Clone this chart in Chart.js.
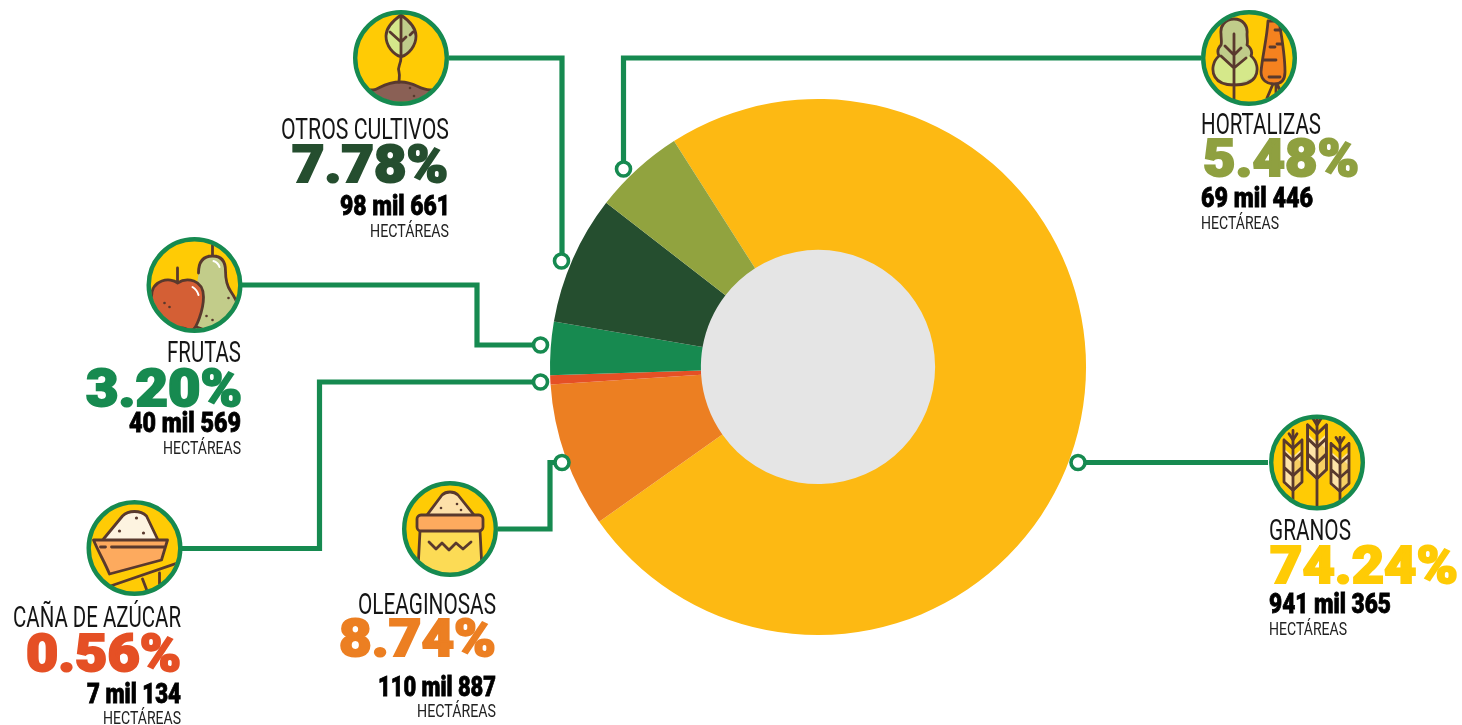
<!DOCTYPE html>
<html>
<head>
<meta charset="utf-8">
<script src="https://cdn.jsdelivr.net/npm/chart.js@4"></script>
<style>
  html, body { margin: 0; background: #fff; overflow: hidden; }
  #wrap { position: relative; width: 1462px; height: 725px; }
  #c { position: absolute; left: 0; top: 0; }
  #over { position: absolute; left: 0; top: 0; pointer-events: none; }
  .title { font: 400 30px Roboto, sans-serif; fill: #151515; }
  .pct { font: 900 52px Roboto, sans-serif; stroke-width: 2px; stroke-linejoin: miter; }
  .hect { font: 900 28px Roboto, sans-serif; fill: #000; stroke: #000; stroke-width: .8px; }
  .unit { font: 400 19px Roboto, sans-serif; fill: #222; }
  .ink { fill: none; stroke: #59392d; stroke-width: 2.8; stroke-linecap: round; stroke-linejoin: round; }
  .wire { fill: none; stroke: #168a50; stroke-width: 5.2; }
</style>
</head>
<body>
<div id="wrap">
<canvas id="c" width="1462" height="725"></canvas>
<svg id="over" width="1462" height="725" xmlns="http://www.w3.org/2000/svg">
  <defs>
    <clipPath id="disc"><circle r="44"/></clipPath>
    <g id="ear">
      <path d="M-9,-22 L-9,12 L0,20 L9,12 L9,-22 L0,-14 Z" fill="#fde3a7" stroke="none"/>
      <path d="M9,-8 L9,12 L0,20 L0,-16 Z" fill="#f7cf63" stroke="none"/>
      <path class="ink" d="M-9,-30 L-9,-18 L0,-10 L9,-18 L9,-30 M-9,-18 L-9,-4 L0,4 L9,-4 L9,-18 M-9,-4 L-9,10 L0,18 L9,10 L9,-4 M-4,-36 L0,-30 L4,-36 M-9,-30 L0,-22 L9,-30"/>
    </g>
  </defs>
  <g id="wires"></g>

  <!-- otros cultivos -->
  <g transform="translate(401,58)">
    <circle r="46" fill="#ffcb05"/>
    <g clip-path="url(#disc)">
      <path d="M-50,50 L-50,32 L-28,32 C-22,32 -18,24 0,24 C14,24 18,32 29,32 L50,32 L50,50 Z" fill="#8a6055"/>
      <path class="ink" d="M-50,32 L-28,32 C-22,32 -18,24 0,24 C14,24 18,32 29,32 L50,32"/>
    </g>
    <path d="M0,-43 C-10,-36 -15,-30 -15,-22 C-15,-12 -8,-4 0,-1 Z" fill="#d5e88a"/>
    <path d="M0,-43 C10,-36 15,-30 15,-22 C15,-12 8,-4 0,-1 Z" fill="#c0cc8a"/>
    <path class="ink" d="M0,-43 C-10,-36 -15,-30 -15,-22 C-15,-12 -8,-4 0,-1 C8,-4 15,-12 15,-22 C15,-30 10,-36 0,-43 Z M0,-40 L0,-1 C0,8 -4,8 -2,14 C-1,18 -2,20 -2,24 M-11,-26 L0,-16 L5,-21 M12,-26 L9,-23"/>
    <circle cx="9" cy="30" r="1.3" fill="#59392d"/><circle cx="13" cy="38" r="1.3" fill="#59392d"/>
  </g>

  <!-- hortalizas -->
  <g transform="translate(1249,58)">
    <circle r="46" fill="#ffcb05"/>
    <g clip-path="url(#disc)">
      <path d="M-15,-39 C-24,-39 -29,-32 -28,-24 C-28,-19 -27,-16 -28,-13 C-31,-10 -32,-6 -30,-2 C-36,3 -38,12 -34,19 C-30,26 -22,27 -15,27 C-8,27 2,26 6,19 C10,12 8,3 2,-2 C4,-7 2,-10 -2,-13 C-1,-16 -2,-19 -2,-24 C-1,-32 -6,-39 -15,-39 Z" fill="#c0cc8a"/>
      <path d="M-15,27 C-22,27 -30,26 -34,19 C-38,12 -36,3 -30,-2 L-15,10 L-5,0 L2,-2 C8,3 10,12 6,19 L-15,27 Z" fill="#d5e88a"/>
      <path class="ink" d="M-15,-39 C-24,-39 -29,-32 -28,-24 C-28,-19 -27,-16 -28,-13 C-31,-10 -32,-6 -30,-2 C-36,3 -38,12 -34,19 C-30,26 -22,27 -15,27 C-8,27 2,26 6,19 C10,12 8,3 2,-2 C4,-7 2,-10 -2,-13 C-1,-16 -2,-19 -2,-24 C-1,-32 -6,-39 -15,-39 Z M-15,-24 L-15,46 M-28,-2 L-15,10 L-3,0 M-24,-12 L-15,-3 L-8,-10"/>
      <path d="M19,-37 L30,-37 C33,-20 36,0 36,14 C36,22 32,26 25,26 C18,26 12,22 12,14 C13,0 18,-20 19,-37 Z" fill="#f5821f"/>
      <path class="ink" d="M19,-37 L30,-37 C33,-20 36,0 36,14 C36,22 32,26 25,26 C18,26 12,22 12,14 C13,0 18,-20 19,-37 Z M26,-28 L32,-28 M15,2 L27,2 M28,-14 L33,-14 M20,19 L31,19 M21,-11 L26,-11 M24,26 L18,40 M27,26 L27,36 M28,26 L32,34"/>
    </g>
  </g>

  <!-- frutas -->
  <g transform="translate(194.5,285)">
    <circle r="46" fill="#ffcb05"/>
    <g clip-path="url(#disc)">
      <path d="M18,-29 C6,-29 4,-20 4,-12 C4,-6 0,10 -6,20 L-6,44 C10,50 30,46 40,34 C46,24 44,18 36,6 C32,0 31,-8 31,-14 C31,-22 28,-29 18,-29 Z" fill="#c2cc8a"/>
      <path class="ink" d="M18,-46 L18,-29 M18,-29 C6,-29 4,-20 4,-12 M18,-29 C28,-29 31,-22 31,-14 C31,-8 32,0 36,6 C44,18 46,24 40,34 C32,44 14,48 2,42"/>
      <path d="M-17,-2 C-24,-8 -43,-6 -43,12 C-43,24 -34,45 -22,45 C-19,45 -17,43 -13,43 C-9,43 -7,45 -3,45 C2,45 9,24 9,12 C9,-6 -8,-8 -17,-2 Z" fill="#d45f35"/>
      <path class="ink" d="M-17,-17 L-17,-2 C-24,-8 -43,-6 -43,12 C-43,24 -34,45 -22,45 C-19,45 -17,43 -13,43 C-9,43 -7,45 -3,45 C2,45 9,24 9,12 C9,-6 -8,-8 -17,-2"/>
      <path d="M-2,2 C1,4 3,6 4,10 M19,-24 C22,-23 24,-21 25,-18" fill="none" stroke="#fff" stroke-width="2" stroke-linecap="round"/>
      <circle cx="-30" cy="18" r="1.3" fill="#59392d"/><circle cx="-25" cy="22" r="1.3" fill="#59392d"/>
      <circle cx="34" cy="13" r="1.3" fill="#59392d"/><circle cx="12" cy="31" r="1.3" fill="#59392d"/><circle cx="18" cy="35" r="1.3" fill="#59392d"/>
    </g>
  </g>

  <!-- caña de azúcar -->
  <g transform="translate(134.5,548)">
    <circle r="46" fill="#ffcb05"/>
    <g clip-path="url(#disc)">
      <path d="M-31,-9 L-12,-32 C-6,-38 6,-38 12,-32 L23,-9 Z" fill="#fdf3e0"/>
      <path class="ink" d="M-31,-9 L-12,-32 C-6,-38 6,-38 12,-32 L23,-9"/>
      <path d="M-41,-8 L33,-8 L27,12 L-25,26 C-29,16 -36,4 -41,-8 Z" fill="#fdaa5e"/>
      <path class="ink" d="M-41,-8 L33,-8 L27,12 L-25,26 C-29,16 -36,4 -41,-8 Z M-23,-1 L30,-1 M-34,-1 L-29,-1 M-24,38 L46,14 M8,31 L13,44 M25,25 L25,40"/>
      <circle cx="2" cy="-30" r="1.6" fill="#59392d"/><circle cx="-15" cy="-17" r="1.6" fill="#59392d"/><circle cx="9" cy="-15" r="1.6" fill="#59392d"/>
    </g>
  </g>

  <!-- oleaginosas -->
  <g transform="translate(450,529)">
    <circle r="46" fill="#ffcb05"/>
    <g clip-path="url(#disc)">
      <path d="M-30,1 L30,1 L32,50 L-32,50 Z" fill="#fcdb55"/>
      <path class="ink" d="M-30,2 L-32,40 M30,2 L32,40 M-21,13 L-14,20 L-8,14 L-1,21 L6,14 L13,20 L21,13"/>
      <path d="M-23,-14 L-8,-34 C-4,-38 4,-38 8,-34 L24,-14 Z" fill="#fde0a9"/>
      <path class="ink" d="M-23,-14 L-8,-34 C-4,-38 4,-38 8,-34 L24,-14"/>
      <rect x="-33" y="-14" width="66" height="16" rx="4" fill="#fdaa5e"/>
      <rect x="-33" y="-14" width="66" height="16" rx="4" class="ink"/>
      <circle cx="-9" cy="-21" r="1.3" fill="#59392d"/><circle cx="7" cy="-25" r="1.3" fill="#59392d"/><circle cx="11" cy="-19" r="1.3" fill="#59392d"/>
    </g>
  </g>

  <!-- granos -->
  <g transform="translate(1317,462.5)">
    <circle r="46" fill="#ffcb05"/>
    <g clip-path="url(#disc)">
      <use href="#ear" transform="translate(-24,9) scale(1,1.05)"/>
      <use href="#ear" transform="translate(0,-4) scale(1.05,1.12)"/>
      <use href="#ear" transform="translate(23,11)"/>
      <path class="ink" d="M-24,-32 L-24,46 M0,-46 L0,46 M23,-25 L23,46"/>
    </g>
  </g>

  <g id="rings"></g>
  <g id="labels"></g>
</svg>
</div>
<script>
const categories = ["GRANOS", "OLEAGINOSAS", "CAÑA DE AZÚCAR", "FRUTAS", "OTROS CULTIVOS", "HORTALIZAS"];
const hectares = [941365, 110887, 7134, 40569, 98661, 69446];
const hectareLabels = ["941 mil 365", "110 mil 887", "7 mil 134", "40 mil 569", "98 mil 661", "69 mil 446"];
const percentLabels = ["74.24%", "8.74%", "0.56%", "3.20%", "7.78%", "5.48%"];
const sliceColors = ["#fdb913", "#ec7f22", "#e55025", "#178a50", "#254e2f", "#91a33f"];
const textColors = ["#ffcb05", "#ec7f22", "#e55025", "#178a50", "#254e2f", "#8fa040"];
const unitLabel = "HECTÁREAS";

// label boxes: [x, baseline, width] for name, percent, hectares, unit
const labelBoxes = [
  [[1269, 540, 82], [1270, 583, 188], [1269, 613, 122], [1269, 635, 78]],
  [[358, 614, 138], [339, 656, 157], [378, 696, 118], [417, 717, 79]],
  [[13, 627, 168], [26, 671, 155], [87, 703, 94], [103, 724, 78]],
  [[167, 362, 74], [86, 406, 156], [129, 432, 112], [163, 454, 78]],
  [[281, 139, 168], [292, 182, 156], [340, 215, 110], [370, 237, 79]],
  [[1201, 134, 120], [1203, 176, 156], [1201, 207, 112], [1201, 229, 78]],
];

const connectors = [
  ["M1268,462.5 L1085,462.5", [1078, 462.5]],
  ["M498,529 L550,529 L550,462.5 L555,462.5", [562, 462.5]],
  ["M182,548.5 L319.5,548.5 L319.5,382 L533,382", [540.5, 382]],
  ["M242,285 L477,285 L477,345 L533,345", [540.5, 345]],
  ["M449,58 L562,58 L562,255", [561.5, 261]],
  ["M1201,58 L623.5,58 L623.5,162", [623.5, 169]],
];

const iconOrigin = [[1317, 462.5], [450, 529], [134.5, 548], [194.5, 285], [401, 58], [1249, 58]];

const NS = "http://www.w3.org/2000/svg";
function add(parent, tag, attrs, text) {
  const el = document.createElementNS(NS, tag);
  for (const k in attrs) el.setAttribute(k, attrs[k]);
  if (text) el.textContent = text;
  document.getElementById(parent).appendChild(el);
}

connectors.forEach((c) => {
  add("wires", "path", { d: c[0], class: "wire" });
  add("rings", "circle", { cx: c[1][0], cy: c[1][1], r: 7, fill: "#fff", stroke: "#168a50", "stroke-width": 3.6 });
});
iconOrigin.forEach((p) => {
  add("rings", "circle", { cx: p[0], cy: p[1], r: 45.8, fill: "none", stroke: "#168a50", "stroke-width": 4.4 });
});

categories.forEach((name, i) => {
  const b = labelBoxes[i];
  const row = (cls, text, box, extra) => add("labels", "text", Object.assign({
    class: cls, x: box[0], y: box[1], textLength: box[2], lengthAdjust: "spacingAndGlyphs",
  }, extra || {}), text);
  row("title", name, b[0]);
  row("pct", percentLabels[i], b[1], { fill: textColors[i], stroke: textColors[i] });
  row("hect", hectareLabels[i], b[2]);
  row("unit", unitLabel, b[3]);
});

const holeFill = {
  id: "holeFill",
  beforeDatasetsDraw(chart) {
    const arc = chart.getDatasetMeta(0).data[0];
    chart.ctx.save();
    chart.ctx.fillStyle = "#e5e5e5";
    chart.ctx.beginPath();
    chart.ctx.arc(arc.x, arc.y, arc.innerRadius + 1, 0, Math.PI * 2);
    chart.ctx.fill();
    chart.ctx.restore();
  },
};

new Chart(document.getElementById("c"), {
  type: "doughnut",
  data: {
    labels: categories,
    datasets: [
      {
        data: hectares,
        backgroundColor: sliceColors,
        borderWidth: 0,
      },
    ],
  },
  options: {
    responsive: false,
    animation: false,
    rotation: -32.5,
    cutout: "43.7%",
    layout: { padding: { left: 550, right: 376, top: 99, bottom: 90 } },
    plugins: { legend: { display: false }, tooltip: { enabled: false } },
  },
  plugins: [holeFill],
});
</script>
</body>
</html>
